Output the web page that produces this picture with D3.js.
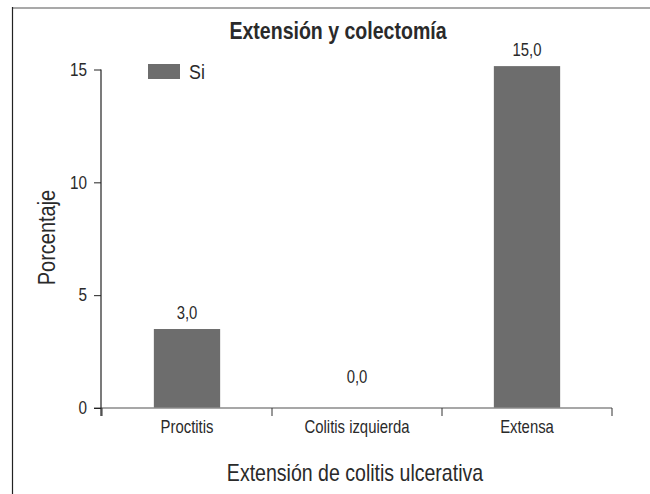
<!DOCTYPE html>
<html>
<head>
<meta charset="utf-8">
<script src="https://cdn.jsdelivr.net/npm/d3@7"></script>
<style>
body{margin:0;background:#fff;}
text{font-family:"Liberation Sans",Arial,sans-serif;fill:#2a2a2a;}
</style>
</head>
<body>
<div id="grafico"></div>
<script>
// datos
var categorias=["Proctitis","Colitis izquierda","Extensa"];
var valores=[3.5,0,15.15];
var etiquetas=["3,0","0,0","15,0"];
var ticksY=[0,5,10,15];
var serie="Si";

var width=650,height=494;
var colorBarra="#6d6d6d";
var estrecho=0.85; // police condensée simulée

var svg=d3.select("#grafico").append("svg")
  .attr("width",width).attr("height",height);

// texte condensé
function texto(x,y,t,taille,ancre,extra){
  return svg.append("text")
    .attr("transform","translate("+x+","+y+")"+(extra||"")+" scale("+estrecho+",1)")
    .attr("text-anchor",ancre||"middle")
    .style("font-size",taille+"px")
    .text(t);
}

// cadre
svg.append("line").attr("x1",12).attr("x2",650).attr("y1",8).attr("y2",8)
  .attr("stroke","#8c8c8c").attr("stroke-width",1.5);
svg.append("line").attr("x1",12.5).attr("x2",12.5).attr("y1",7).attr("y2",494)
  .attr("stroke","#222").attr("stroke-width",1.2);

var x=d3.scaleBand().domain(categorias).range([102,612]).paddingInner(0.61).paddingOuter(0.305);
var y=d3.scaleLinear().domain([0,15]).range([408,69.5]);

// barres
svg.selectAll("rect.barra").data(valores).enter().append("rect")
  .attr("class","barra")
  .attr("x",function(d,i){return x(categorias[i]);})
  .attr("y",function(d){return y(d);})
  .attr("width",x.bandwidth())
  .attr("height",function(d){return y(0)-y(d);})
  .attr("fill",colorBarra);

// axe x
svg.append("line").attr("x1",94).attr("x2",612).attr("y1",y(0)).attr("y2",y(0))
  .attr("stroke","#8a8a8a").attr("stroke-width",1.5);
var bordes=[102].concat(categorias.map(function(c){return x(c)+x.bandwidth()/2+x.step()/2;}));
svg.selectAll("line.tickx").data(bordes).enter().append("line")
  .attr("x1",function(d){return d;}).attr("x2",function(d){return d;})
  .attr("y1",y(0)).attr("y2",y(0)+8)
  .attr("stroke","#333").attr("stroke-width",1);
categorias.forEach(function(c){
  texto(x(c)+x.bandwidth()/2,433,c,17.5);
});

// axe y
var ejeY=svg.append("g").attr("transform","translate(101,0)")
  .call(d3.axisLeft(y).tickValues(ticksY).tickSize(7).tickPadding(7).tickFormat(d3.format("d")));
ejeY.select(".domain").attr("d","M0,"+y(15)+"V416").attr("stroke","#222").attr("stroke-width",1.2);
ejeY.selectAll(".tick line").attr("stroke","#222");
ejeY.selectAll(".tick text").style("font-size","18px")
  .style("font-family","'Liberation Sans',Arial,sans-serif").attr("fill","#2a2a2a")
  .attr("x",-14/estrecho).attr("transform","scale("+estrecho+",1)");

// valeurs (barre nulle : étiquette un peu plus haut)
valores.forEach(function(d,i){
  var haut=Math.min(y(d),y(0)-15);
  texto(x(categorias[i])+x.bandwidth()/2,haut-10,etiquetas[i],17.5);
});

// titres
texto(338,39,"Extensión y colectomía",23).style("font-weight","bold");
texto(355,481,"Extensión de colitis ulcerativa",23);
texto(55,237.5,"Porcentaje",23.5,"middle"," rotate(-90)");

// légende
svg.append("rect").attr("x",148).attr("y",64).attr("width",32).attr("height",15).attr("fill",colorBarra);
texto(189,79,serie,21,"start");
</script>
</body>
</html>
